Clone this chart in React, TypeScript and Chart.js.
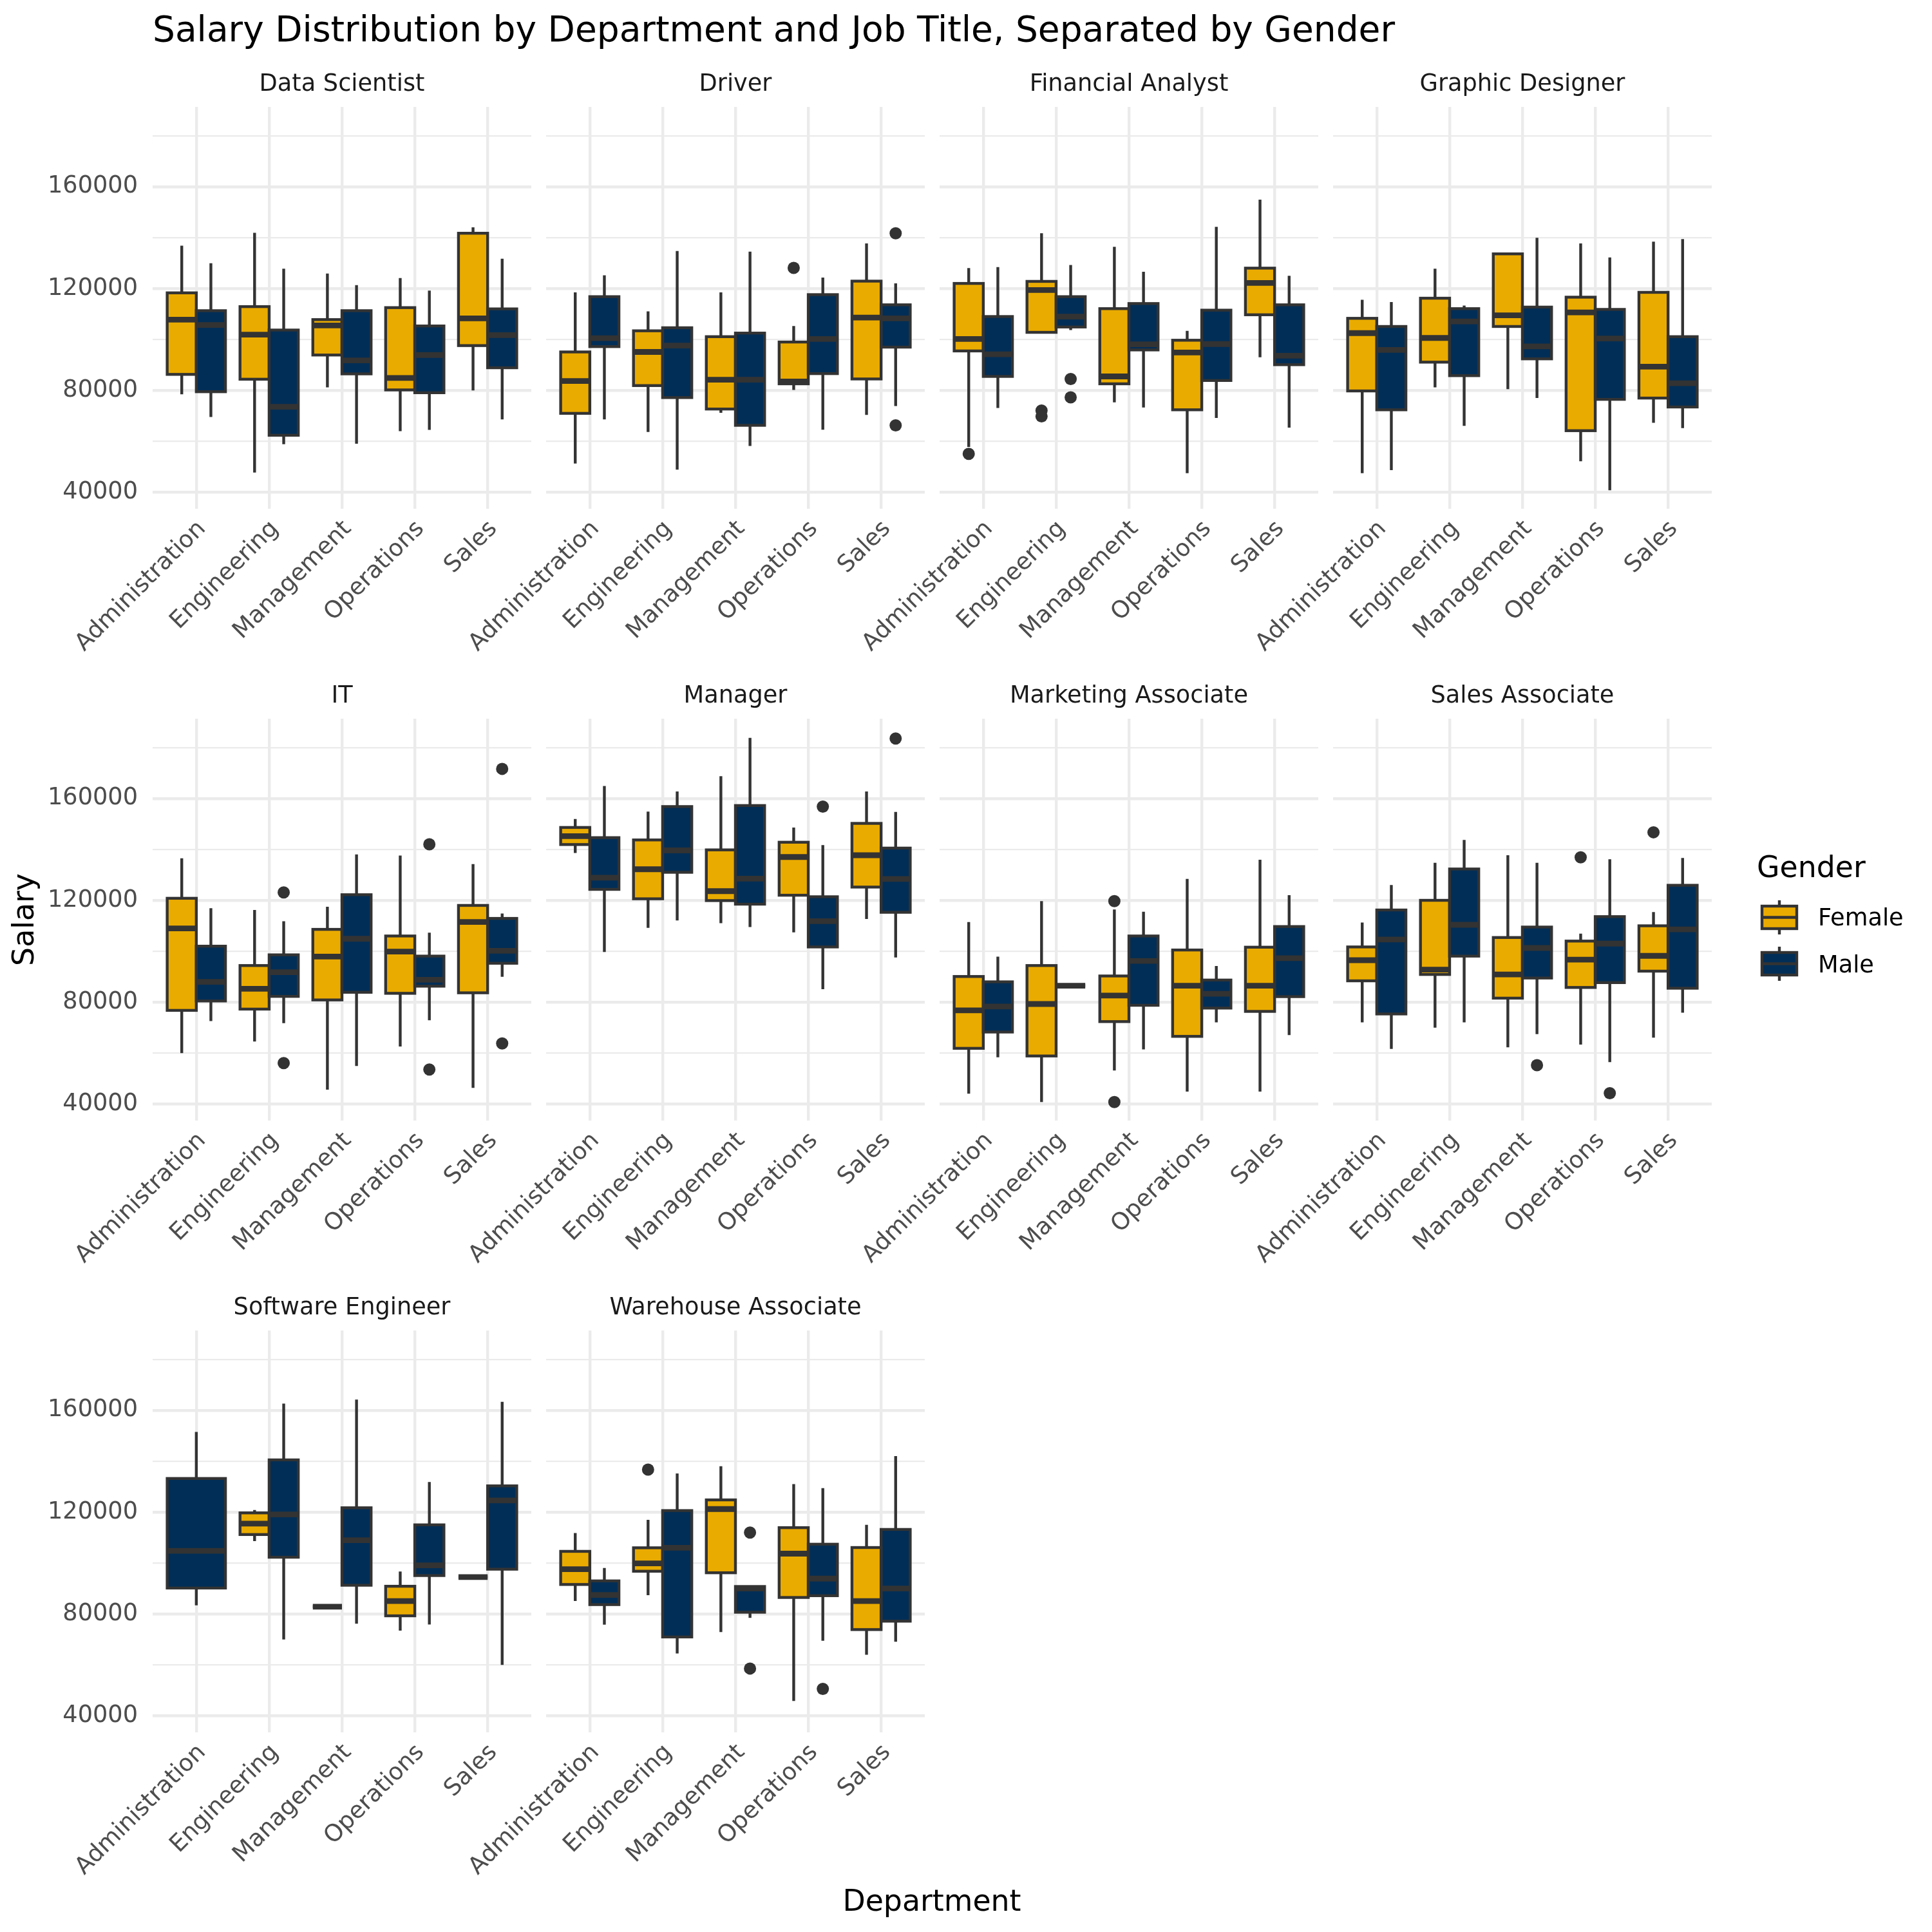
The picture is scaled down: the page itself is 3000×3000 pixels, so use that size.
import React, { useEffect, useRef } from 'react';
import { Chart, registerables } from 'chart.js';

Chart.register(...registerables);

type Stat = [number, number, number, number, number] | null; // [lowWhisker, q1, median, q3, highWhisker]

const CHART_TITLE = 'Salary Distribution by Department and Job Title, Separated by Gender';
const X_TITLE = 'Department';
const Y_TITLE = 'Salary';
const LEGEND_TITLE = 'Gender';
const GENDERS = ['Female', 'Male'];
const DEPARTMENTS = ['Administration', 'Engineering', 'Management', 'Operations', 'Sales'];
const Y_TICKS = [40000, 60000, 80000, 100000, 120000, 140000, 160000, 180000];
const Y_LABEL_STEP = 40000;
const Y_MIN = 33550;
const Y_MAX = 191280;

// ---- Data Scientist
const dataScientistF: Stat[] = [
  [78500, 86300, 107800, 118300, 136800],
  [47800, 84400, 101900, 112900, 141900],
  [81200, 93900, 105500, 107800, 125900],
  [64000, 80200, 84900, 112500, 124100],
  [80000, 97600, 108300, 141700, 144000],
];
const dataScientistM: Stat[] = [
  [69600, 79500, 105700, 111300, 129900],
  [58900, 62400, 73600, 103700, 127800],
  [59100, 86500, 91800, 111300, 121300],
  [64500, 79100, 93900, 105300, 119200],
  [68600, 88900, 101700, 112000, 131700],
];
const dataScientistFOut: number[][] = [[], [], [], [], []];
const dataScientistMOut: number[][] = [[], [], [], [], []];

// ---- Driver
const driverF: Stat[] = [
  [51300, 71000, 83700, 95100, 118500],
  [63700, 81900, 95100, 103400, 111000],
  [71200, 72700, 84200, 101100, 118500],
  [80200, 82600, 83500, 99000, 105300],
  [70400, 84500, 108600, 122900, 137700],
];
const driverM: Stat[] = [
  [68600, 97200, 100500, 116800, 125200],
  [48900, 77200, 97600, 104600, 134700],
  [58200, 66300, 84200, 102500, 134500],
  [64600, 86600, 100200, 117600, 124300],
  [73900, 97000, 108300, 113600, 122000],
];
const driverFOut: number[][] = [[], [], [], [128100], []];
const driverMOut: number[][] = [[], [], [], [], [141700, 66300]];

// ---- Financial Analyst
const financialAnalystF: Stat[] = [
  [57800, 95500, 100200, 122000, 128000],
  [102800, 102800, 119400, 122800, 141700],
  [75300, 82600, 85500, 112100, 136400],
  [47500, 72400, 94900, 99700, 103400],
  [93000, 109700, 122200, 128000, 154900],
];
const financialAnalystM: Stat[] = [
  [73100, 85500, 94200, 109000, 128400],
  [103700, 104900, 109000, 116800, 129200],
  [73300, 95900, 98100, 114100, 126600],
  [69200, 83900, 98200, 111500, 144200],
  [65400, 90100, 93600, 113600, 125000],
];
const financialAnalystFOut: number[][] = [[55100], [72100, 69800], [], [], []];
const financialAnalystMOut: number[][] = [[], [84500, 77300], [], [], []];

// ---- Graphic Designer
const graphicDesignerF: Stat[] = [
  [47500, 79800, 102500, 108300, 115600],
  [81200, 91100, 100600, 116200, 127800],
  [80500, 105100, 109500, 133600, 133600],
  [52200, 64200, 110600, 116600, 137700],
  [67300, 77000, 89300, 118500, 138400],
];
const graphicDesignerM: Stat[] = [
  [48700, 72400, 95900, 105100, 114700],
  [66100, 85800, 107100, 112100, 113300],
  [77000, 92400, 97300, 112700, 139900],
  [40800, 76500, 100400, 111800, 132200],
  [65200, 73500, 82800, 101100, 139400],
];
const graphicDesignerFOut: number[][] = [[], [], [], [], []];
const graphicDesignerMOut: number[][] = [[], [], [], [], []];

// ---- IT
const itF: Stat[] = [
  [60000, 76800, 109000, 120800, 136500],
  [64600, 77300, 85300, 94400, 116200],
  [45700, 80900, 97900, 108600, 117500],
  [62600, 83500, 99900, 106000, 137600],
  [46400, 83700, 111500, 118000, 134200],
];
const itM: Stat[] = [
  [72600, 80500, 88000, 102000, 116900],
  [71800, 82300, 91800, 98600, 111800],
  [55000, 83900, 104900, 122200, 138000],
  [72900, 86300, 88800, 98100, 107300],
  [90000, 95300, 100200, 112900, 114800],
];
const itFOut: number[][] = [[], [], [], [], []];
const itMOut: number[][] = [[], [123100, 56100], [], [142000, 53600], [171600, 63800]];

// ---- Manager
const managerF: Stat[] = [
  [138600, 141900, 145200, 148600, 151900],
  [109200, 120600, 132200, 143700, 154800],
  [111000, 119900, 123600, 139800, 168700],
  [107400, 122000, 137000, 142800, 148600],
  [112700, 125200, 137700, 150200, 162700],
];
const managerM: Stat[] = [
  [99700, 124300, 128900, 144600, 164900],
  [112100, 131000, 139600, 156800, 162700],
  [109500, 118500, 128500, 157200, 183800],
  [85100, 101700, 111800, 121400, 141700],
  [97600, 115300, 128400, 140500, 154700],
];
const managerFOut: number[][] = [[], [], [], [], []];
const managerMOut: number[][] = [[], [], [], [156800], [183500]];

// ---- Marketing Associate
const marketingAssociateF: Stat[] = [
  [44100, 61900, 76800, 90100, 111500],
  [40800, 58900, 79300, 94400, 119700],
  [53200, 72400, 82600, 90300, 116400],
  [44900, 66600, 86500, 100500, 128400],
  [44900, 76400, 86500, 101600, 135900],
];
const marketingAssociateM: Stat[] = [
  [58400, 68300, 78300, 88000, 97900],
  [86500, 86500, 86500, 86500, 86500],
  [61500, 78800, 96200, 106000, 115500],
  [72100, 77700, 83300, 88700, 94200],
  [67100, 82200, 97300, 109700, 122000],
];
const marketingAssociateFOut: number[][] = [[], [], [119700, 40800], [], []];
const marketingAssociateMOut: number[][] = [[], [], [], [], []];

// ---- Sales Associate
const salesAssociateF: Stat[] = [
  [72100, 88400, 96500, 101700, 111300],
  [70000, 90900, 92800, 120000, 134700],
  [62300, 81600, 90900, 105400, 137700],
  [63400, 85800, 96700, 104000, 106900],
  [66100, 92200, 98200, 110000, 115400],
];
const salesAssociateM: Stat[] = [
  [61700, 75400, 104600, 116200, 126000],
  [72100, 98100, 110400, 132300, 143700],
  [67500, 89500, 101300, 109500, 134700],
  [56500, 87700, 103000, 113600, 136100],
  [75900, 85500, 108600, 125900, 136600],
];
const salesAssociateFOut: number[][] = [[], [], [], [136900], [146700]];
const salesAssociateMOut: number[][] = [[], [], [55300], [44300], []];

// ---- Software Engineer
const softwareEngineerF: Stat[] = [
  null,
  [108600, 111200, 115500, 119700, 120800],
  [82900, 82900, 82900, 82900, 82900],
  [73500, 79300, 85100, 90900, 96700],
  [94500, 94500, 94500, 94500, 94500],
];
const softwareEngineerM: Stat[] = [
  [83400, 90200, 104800, 133200, 151500],
  [70000, 102300, 119100, 140500, 162600],
  [76200, 91300, 109000, 121700, 164200],
  [75900, 95100, 99100, 115000, 131800],
  [60000, 97600, 124600, 130300, 163300],
];
const softwareEngineerFOut: number[][] = [[], [], [], [], []];
const softwareEngineerMOut: number[][] = [[], [], [], [], []];

// ---- Warehouse Associate
const warehouseAssociateF: Stat[] = [
  [85100, 91600, 97600, 104600, 111800],
  [87400, 96800, 99900, 106000, 117000],
  [72900, 96200, 121200, 124800, 138000],
  [45900, 86500, 103700, 113900, 131000],
  [64000, 73900, 85100, 106100, 115000],
];
const warehouseAssociateM: Stat[] = [
  [75800, 83700, 87500, 93000, 98100],
  [64500, 71000, 106000, 120600, 135200],
  [78500, 80700, 90000, 90800, 90800],
  [69500, 87200, 93900, 107400, 129400],
  [69100, 77200, 90000, 113200, 142000],
];
const warehouseAssociateFOut: number[][] = [[], [136700], [], [], []];
const warehouseAssociateMOut: number[][] = [[], [], [112000, 58600], [50600], []];

const PANELS = [
  { title: 'Data Scientist', f: dataScientistF, m: dataScientistM, fo: dataScientistFOut, mo: dataScientistMOut },
  { title: 'Driver', f: driverF, m: driverM, fo: driverFOut, mo: driverMOut },
  { title: 'Financial Analyst', f: financialAnalystF, m: financialAnalystM, fo: financialAnalystFOut, mo: financialAnalystMOut },
  { title: 'Graphic Designer', f: graphicDesignerF, m: graphicDesignerM, fo: graphicDesignerFOut, mo: graphicDesignerMOut },
  { title: 'IT', f: itF, m: itM, fo: itFOut, mo: itMOut },
  { title: 'Manager', f: managerF, m: managerM, fo: managerFOut, mo: managerMOut },
  { title: 'Marketing Associate', f: marketingAssociateF, m: marketingAssociateM, fo: marketingAssociateFOut, mo: marketingAssociateMOut },
  { title: 'Sales Associate', f: salesAssociateF, m: salesAssociateM, fo: salesAssociateFOut, mo: salesAssociateMOut },
  { title: 'Software Engineer', f: softwareEngineerF, m: softwareEngineerM, fo: softwareEngineerFOut, mo: softwareEngineerMOut },
  { title: 'Warehouse Associate', f: warehouseAssociateF, m: warehouseAssociateM, fo: warehouseAssociateFOut, mo: warehouseAssociateMOut },
];

// ---- styling / layout
const FONT = '"DejaVu Sans", Verdana, sans-serif';
const FILLS = ['#EAAB00', '#012E57'];
const LINE = '#333333';
const GRID = '#EBEBEB';
const BOX_LW = 4.4;
const MED_LW = 8.8;
const GRID_MAJOR = 4.4;
const GRID_MINOR = 2.2;
const BOX_WIDTH = 0.8;
const POINT_R = 9.5;
const SMALL_FONT = 36.7;
const MID_FONT = 45.8;
const BIG_FONT = 55;

const PANEL_X = [237, 848, 1459, 2070];
const PANEL_Y = [166, 1116, 2066];
const PANEL_W = 588;
const PANEL_H = 624;
const CAN_L = 230;
const CAN_T = 80;
const CAN_R = 10;
const CAN_B = 250;

function makeBoxPlugin(stats: Stat[][]) {
  return {
    id: 'boxDecor',
    afterDatasetsDraw(chart: any) {
      const ctx = chart.ctx as CanvasRenderingContext2D;
      const ys = chart.scales.y;
      ctx.save();
      ctx.strokeStyle = LINE;
      ctx.lineCap = 'butt';
      stats.forEach((arr, g) => {
        const meta = chart.getDatasetMeta(g);
        arr.forEach((s, i) => {
          if (!s) return;
          const el = meta.data[i];
          if (!el) return;
          const cx = el.x;
          const w = el.width;
          const [lo, q1, med, q3, hi] = s.map((v) => ys.getPixelForValue(v));
          ctx.lineWidth = BOX_LW;
          ctx.beginPath();
          ctx.moveTo(cx, q3);
          ctx.lineTo(cx, hi);
          ctx.moveTo(cx, q1);
          ctx.lineTo(cx, lo);
          ctx.stroke();
          ctx.strokeRect(cx - w / 2, q3, w, q1 - q3);
          ctx.lineWidth = MED_LW;
          ctx.beginPath();
          ctx.moveTo(cx - w / 2, med);
          ctx.lineTo(cx + w / 2, med);
          ctx.stroke();
        });
      });
      ctx.restore();
    },
  };
}

function Panel({ idx }: { idx: number }) {
  const ref = useRef<HTMLCanvasElement>(null);
  const col = idx % 4;
  const row = Math.floor(idx / 4);
  useEffect(() => {
    const p = PANELS[idx];
    const stats = [p.f, p.m];
    const outs = [p.fo, p.mo];
    const datasets: any[] = stats.map((arr, g) => ({
      type: 'bar',
      label: GENDERS[g],
      data: arr.map((s, i) => ({ x: i + 1, y: s ? [s[1], s[3]] : null })),
      backgroundColor: FILLS[g],
      borderWidth: 0,
      skipNull: true,
      grouped: true,
      categoryPercentage: BOX_WIDTH,
      barPercentage: 1,
    }));
    outs.forEach((arr, g) => {
      const pts: { x: number; y: number }[] = [];
      arr.forEach((vals, i) => {
        const both = stats[0][i] && stats[1][i];
        const off = both ? (g === 0 ? -1 : 1) * (BOX_WIDTH / 4) : 0;
        vals.forEach((v) => pts.push({ x: i + 1 + off, y: v }));
      });
      datasets.push({
        type: 'scatter',
        label: GENDERS[g] + ' outliers',
        data: pts,
        pointRadius: POINT_R,
        pointBackgroundColor: LINE,
        backgroundColor: LINE,
        pointBorderWidth: 0,
        borderWidth: 0,
      });
    });

    const chart = new Chart(ref.current as HTMLCanvasElement, {
      type: 'bar',
      data: { datasets },
      options: {
        animation: false,
        responsive: false,
        maintainAspectRatio: false,
        devicePixelRatio: 1,
        events: [],
        layout: { padding: { left: 0, right: CAN_R, top: 0, bottom: 0 } },
        plugins: {
          legend: { display: false },
          tooltip: { enabled: false },
          title: {
            display: true,
            text: p.title,
            fullSize: false,
            color: '#1A1A1A',
            font: { family: FONT, size: SMALL_FONT, weight: 'normal', lineHeight: 1.2 },
            padding: { top: 23, bottom: 13 },
          },
        },
        scales: {
          x: {
            type: 'linear',
            min: 0.4,
            max: 5.6,
            offset: false,
            afterBuildTicks: (s: any) => {
              s.ticks = DEPARTMENTS.map((_, i) => ({ value: i + 1 }));
            },
            afterFit: (s: any) => {
              s.height = CAN_B;
            },
            ticks: {
              autoSkip: false,
              maxRotation: 45,
              minRotation: 45,
              padding: 10,
              labelOffset: 9,
              color: '#4D4D4D',
              font: { family: FONT, size: SMALL_FONT },
              callback: (v: any) => DEPARTMENTS[Math.round(Number(v)) - 1] ?? '',
            },
            grid: { color: GRID, lineWidth: GRID_MAJOR, drawTicks: false, offset: false },
            border: { display: false },
          },
          y: {
            type: 'linear',
            min: Y_MIN,
            max: Y_MAX,
            afterBuildTicks: (s: any) => {
              s.ticks = Y_TICKS.map((v) => ({ value: v }));
            },
            afterFit: (s: any) => {
              s.width = CAN_L;
            },
            ticks: {
              display: col === 0,
              padding: 23,
              color: '#4D4D4D',
              font: { family: FONT, size: SMALL_FONT },
              callback: (v: any) => (Number(v) % Y_LABEL_STEP === 0 ? String(v) : ''),
            },
            grid: {
              color: GRID,
              lineWidth: (c: any) => (c.tick && c.tick.value % Y_LABEL_STEP === 0 ? GRID_MAJOR : GRID_MINOR),
              drawTicks: false,
            },
            border: { display: false },
          },
        },
      } as any,
      plugins: [makeBoxPlugin(stats)],
    });
    return () => chart.destroy();
  }, [idx]);

  return (
    <canvas
      ref={ref}
      width={CAN_L + PANEL_W + CAN_R}
      height={CAN_T + PANEL_H + CAN_B}
      style={{ position: 'absolute', left: PANEL_X[col] - CAN_L, top: PANEL_Y[row] - CAN_T }}
    />
  );
}

function LegendKey({ y, fill }: { y: number; fill: string }) {
  const x0 = 2736;
  const x1 = 2790;
  const cx = (x0 + x1) / 2;
  const top = y - 17.5;
  const bot = y + 17.5;
  return (
    <g>
      <line x1={cx} x2={cx} y1={top - 9} y2={top} stroke={LINE} strokeWidth={BOX_LW} />
      <line x1={cx} x2={cx} y1={bot} y2={bot + 9} stroke={LINE} strokeWidth={BOX_LW} />
      <rect x={x0} y={top} width={x1 - x0} height={bot - top} fill={fill} stroke={LINE} strokeWidth={BOX_LW} />
      <line x1={x0} x2={x1} y1={y} y2={y} stroke={LINE} strokeWidth={BOX_LW} />
    </g>
  );
}

export default function App() {
  return (
    <div style={{ position: 'absolute', left: 0, top: 0, width: 3000, height: 3000, background: '#FFFFFF', overflow: 'hidden' }}>
      {PANELS.map((_, i) => (
        <Panel key={i} idx={i} />
      ))}
      <svg width={3000} height={3000} style={{ position: 'absolute', left: 0, top: 0, pointerEvents: 'none' }} fontFamily={FONT}>
        <text x={237} y={64} fontSize={BIG_FONT} fill="#000000">{CHART_TITLE}</text>
        <text transform="translate(52,1428) rotate(-90)" textAnchor="middle" fontSize={MID_FONT} fill="#000000">{Y_TITLE}</text>
        <text x={1447} y={2967} textAnchor="middle" fontSize={MID_FONT} fill="#000000">{X_TITLE}</text>
        <text x={2728} y={1362} fontSize={MID_FONT} fill="#000000">{LEGEND_TITLE}</text>
        <LegendKey y={1424.5} fill={FILLS[0]} />
        <LegendKey y={1496.5} fill={FILLS[1]} />
        <text x={2823} y={1437} fontSize={SMALL_FONT} fill="#000000">{GENDERS[0]}</text>
        <text x={2823} y={1510} fontSize={SMALL_FONT} fill="#000000">{GENDERS[1]}</text>
      </svg>
    </div>
  );
}
